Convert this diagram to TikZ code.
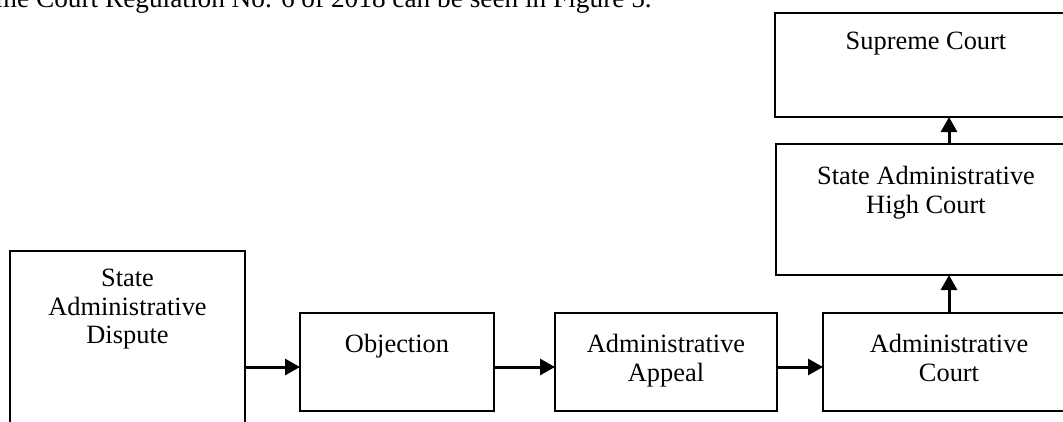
\documentclass[tikz,border=0pt]{standalone}
\usepackage{fontspec}
\setmainfont{Liberation Serif}
\usetikzlibrary{arrows.meta}
\begin{document}
\begin{tikzpicture}[x=1pt,y=-1pt,
  stage/.style={draw=black,line width=2.8pt,rectangle,inner sep=0pt,outer sep=0pt},
  caption/.style={inner sep=0pt,anchor=north,align=center,
    font=\fontsize{26.4}{28.5}\selectfont},
  flow/.style={line width=3pt,-{Triangle[length=15pt,width=16pt]}}]
\useasboundingbox (0,0) rectangle (1063,421);
\clip (0,0) rectangle (1063,421);
\fill[white] (0,0) rectangle (1063,421);

% running sentence above the figure
\node[anchor=base west,inner sep=0pt,font=\fontsize{27.3}{30}\selectfont] (sentence) at (-68,7)
  {Supreme Court Regulation No. 6 of 2018 can be seen in Figure 5.};

% stages of the dispute
\node[stage,minimum width=235pt,minimum height=230pt] (dispute) at (127.5,366) {};
\node[stage,minimum width=194pt,minimum height=98pt] (obj) at (397,362) {};
\node[stage,minimum width=222pt,minimum height=98pt] (appeal) at (666,362) {};
\node[stage,minimum width=252pt,minimum height=98pt] (acourt) at (949,362) {};
\node[stage,minimum width=300pt,minimum height=131pt] (high) at (926,209.5) {};
\node[stage,minimum width=302pt,minimum height=104pt] (supreme) at (926,65) {};

% stage names
\node[caption] (tdispute) at ([yshift=-18pt]dispute.north) {State\\Administrative\\Dispute};
\node[caption] (tobj) at ([yshift=-21pt]obj.north) {Objection};
\node[caption] (tappeal) at ([yshift=-21pt]appeal.north) {Administrative\\Appeal};
\node[caption] (tacourt) at ([yshift=-21pt]acourt.north) {Administrative\\Court};
\node[caption] (thigh) at ([yshift=-22pt]high.north) {State Administrative\\High Court};
\node[caption] (tsupreme) at ([yshift=-19pt]supreme.north) {Supreme Court};

% connectors
\draw[flow] ([yshift=-5pt]obj.west -| dispute.east) -- ([yshift=-5pt]obj.west);
\draw[flow] ([yshift=-5pt]obj.east) -- ([yshift=-5pt]appeal.west);
\draw[flow] ([yshift=-5pt]appeal.east) -- ([yshift=-5pt]acourt.west);
\draw[flow] (acourt.north) -- (acourt.north |- high.south);
\draw[flow] (acourt.north |- high.north) -- (acourt.north |- supreme.south);
\end{tikzpicture}
\end{document}
